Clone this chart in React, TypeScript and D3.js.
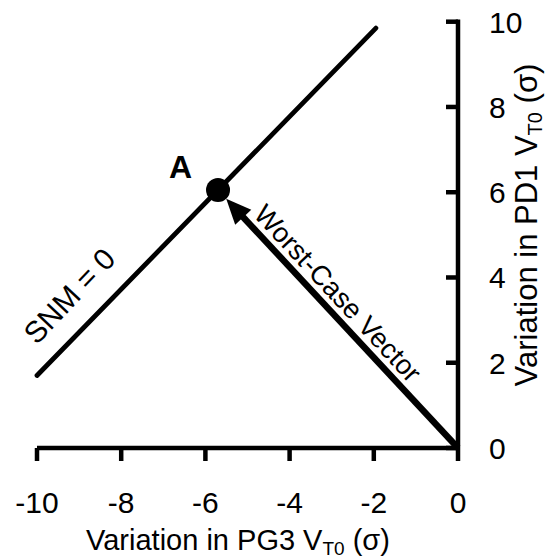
import React from "react";
import * as d3 from "d3";

// axis ticks
const xTicks = [-10, -8, -6, -4, -2, 0];
const yTicks = [0, 2, 4, 6, 8, 10];

// SNM = 0 boundary line (PG3 sigma, PD1 sigma)
const snmX = [-10, -1.95];
const snmY = [1.7, 9.85];

// point A, where the worst-case vector meets SNM = 0
const pointA = { x: -5.7, y: 6.05 };

// worst-case vector from the origin
const vectorX = [0, pointA.x];
const vectorY = [0, pointA.y];

const font = "'Liberation Sans', Arial, sans-serif";

function App() {
  const width = 545;
  const height = 558;

  const xScale = d3.scaleLinear().domain([-10, 0]).range([37, 458]);
  const yScale = d3.scaleLinear().domain([0, 10]).range([448, 21.7]);

  const line = d3
    .line<number>()
    .x((d, i) => xScale(snmX[i]))
    .y((d, i) => yScale(snmY[i]));

  // vector geometry in pixels
  const x0 = xScale(vectorX[0]);
  const y0 = yScale(vectorY[0]);
  const x1 = xScale(vectorX[1]);
  const y1 = yScale(vectorY[1]);
  const len = Math.hypot(x1 - x0, y1 - y0);
  const ux = (x0 - x1) / len; // unit from A toward origin
  const uy = (y0 - y1) / len;
  const r = 12;
  const tipX = x1 + ux * r;
  const tipY = y1 + uy * r;
  const headLen = 25;
  const headW = 11;
  const baseX = tipX + ux * headLen;
  const baseY = tipY + uy * headLen;
  const head = [
    [tipX, tipY],
    [baseX - uy * headW, baseY + ux * headW],
    [baseX + uy * headW, baseY - ux * headW],
  ];

  // vector label: along the line, offset toward upper right
  const vecAngle = (Math.atan2(uy, ux) * 180) / Math.PI;
  const labelStart = 42;
  const labelOff = 8;
  const lvX = x1 + ux * labelStart + uy * labelOff;
  const lvY = y1 + uy * labelStart - ux * labelOff;

  // SNM label
  const sx0 = xScale(snmX[0]);
  const sy0 = yScale(snmY[0]);
  const sx1 = xScale(snmX[1]);
  const sy1 = yScale(snmY[1]);
  const sLen = Math.hypot(sx1 - sx0, sy1 - sy0);
  const sux = (sx1 - sx0) / sLen;
  const suy = (sy1 - sy0) / sLen;
  const snmAngle = (Math.atan2(suy, sux) * 180) / Math.PI - 1;
  const sAlong = 21;
  const sOff = 21;
  const snmLX = sx0 + sux * sAlong + suy * sOff;
  const snmLY = sy0 + suy * sAlong - sux * sOff;

  const axisW = 4.5;

  return (
    <svg
      width={width}
      height={height}
      style={{ position: "absolute", left: 0, top: 0, background: "#fff" }}
      fontFamily={font}
    >
      {/* SNM = 0 line */}
      <path
        d={line(snmX) || ""}
        stroke="#000"
        strokeWidth={4.8}
        strokeLinecap="round"
        fill="none"
      />

      {/* worst-case vector */}
      <line
        x1={x0}
        y1={y0}
        x2={baseX - ux * 2}
        y2={baseY - uy * 2}
        stroke="#000"
        strokeWidth={6.5}
      />
      <polygon points={head.map((p) => p.join(",")).join(" ")} fill="#000" />

      {/* point A */}
      <circle cx={x1} cy={y1} r={r} fill="#000" />
      <text
        x={xScale(pointA.x) - 49}
        y={yScale(pointA.y) - 12}
        fontSize={32}
        fontWeight="bold"
        fill="#000"
      >
        A
      </text>

      {/* labels on lines */}
      <text
        transform={`translate(${snmLX},${snmLY}) rotate(${snmAngle})`}
        fontSize={30}
        fill="#000"
      >
        SNM = 0
      </text>
      <text
        transform={`translate(${lvX},${lvY}) rotate(${vecAngle})`}
        fontSize={27.5}
        fill="#000"
      >
        Worst-Case Vector
      </text>

      {/* x axis */}
      <line
        x1={xScale(-10)}
        x2={xScale(0)}
        y1={yScale(0)}
        y2={yScale(0)}
        stroke="#000"
        strokeWidth={axisW}
      />
      {xTicks.map((t) => (
        <g key={"xt" + t}>
          <line
            x1={xScale(t)}
            x2={xScale(t)}
            y1={yScale(0)}
            y2={yScale(0) + 13}
            stroke="#000"
            strokeWidth={axisW}
          />
          <text
            x={xScale(t)}
            y={513}
            textAnchor="middle"
            fontSize={30}
            fill="#000"
          >
            {t}
          </text>
        </g>
      ))}

      {/* y axis */}
      <line
        x1={xScale(0)}
        x2={xScale(0)}
        y1={yScale(10) - axisW / 2}
        y2={yScale(0)}
        stroke="#000"
        strokeWidth={axisW}
      />
      {yTicks.map((t) => (
        <g key={"yt" + t}>
          <line
            x1={xScale(0) - 12}
            x2={xScale(0)}
            y1={yScale(t)}
            y2={yScale(t)}
            stroke="#000"
            strokeWidth={axisW}
          />
          <text x={489} y={yScale(t) + 11} fontSize={30} fill="#000">
            {t}
          </text>
        </g>
      ))}

      {/* axis titles */}
      <text x={238} y={550} textAnchor="middle" fontSize={29} fill="#000">
        Variation in PG3 V
        <tspan fontSize={19} dy={5}>
          T0
        </tspan>
        <tspan dy={-5}> (σ)</tspan>
      </text>
      <text
        transform="translate(537,225) rotate(-90)"
        textAnchor="middle"
        fontSize={31}
        fill="#000"
      >
        Variation in PD1 V
        <tspan fontSize={20} dy={5}>
          T0
        </tspan>
        <tspan dy={-5}> (σ)</tspan>
      </text>
    </svg>
  );
}

export default App;
